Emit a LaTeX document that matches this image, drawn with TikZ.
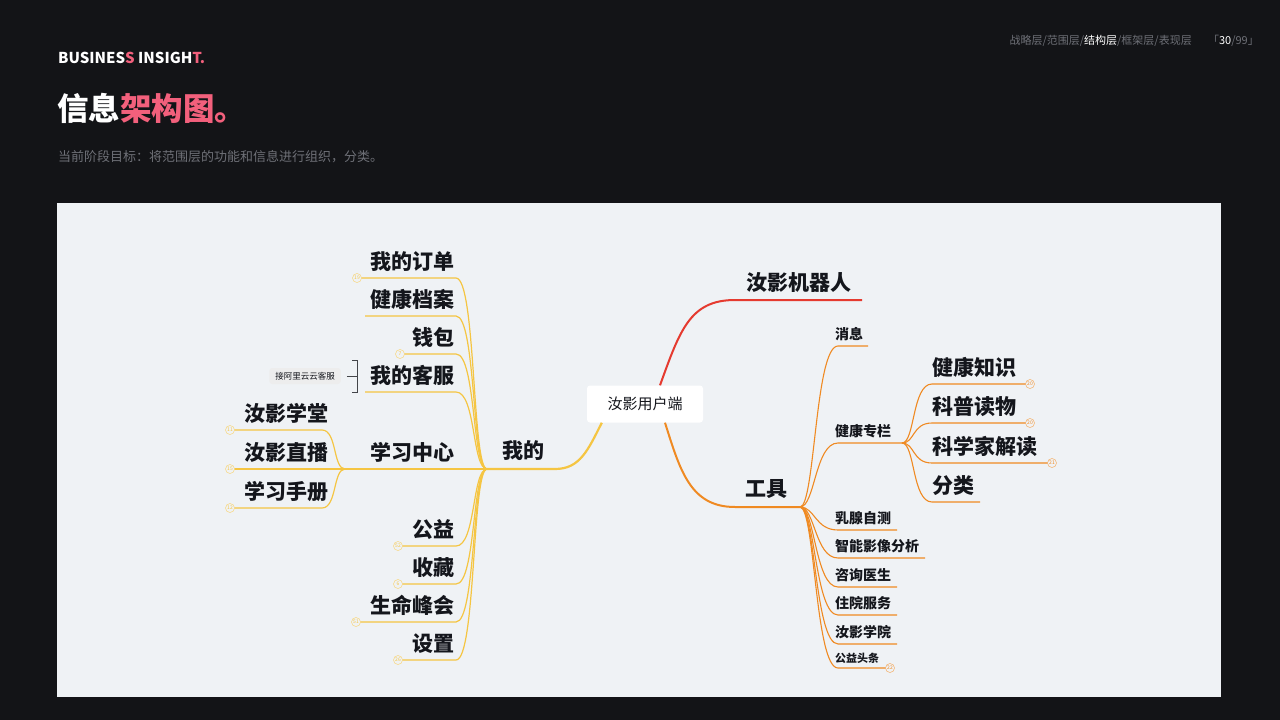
\documentclass[tikz,border=0pt]{standalone}
\usepackage{fontspec}
\setmainfont{Noto Sans CJK SC}
\newfontfamily\cjk{Noto Sans CJK SC}
\definecolor{bg}{HTML}{131417}
\definecolor{panel}{HTML}{EFF2F5}
\definecolor{pink}{HTML}{F2607C}
\definecolor{ylw}{HTML}{F5C542}
\definecolor{org}{HTML}{EF8A22}
\definecolor{rd}{HTML}{E53A2F}
\definecolor{ink}{HTML}{14161C}
\definecolor{gry}{HTML}{6E7077}
\tikzset{
 big/.style={font=\fontsize{21}{21}\selectfont\bfseries, text=ink, inner sep=0pt},
 small/.style={font=\fontsize{14}{14}\selectfont\bfseries, text=ink, inner sep=0pt},
 yl/.style={draw=ylw, line width=1.2pt},
 ol/.style={draw=org, line width=1.1pt},
 badgeY/.style={circle, draw=ylw!70, fill=panel, line width=0.5pt, inner sep=0pt, minimum size=9pt, font=\fontsize{5}{5}\selectfont, text=ylw},
 badgeO/.style={circle, draw=org!70, fill=panel, line width=0.5pt, inner sep=0pt, minimum size=9pt, font=\fontsize{5}{5}\selectfont, text=org},
}
\newcommand{\LeafL}[5]{% y, xstart, text, badge, name
 \coordinate (#5e) at (#2,#1);
 \draw[yl] (hubL) .. controls (472,469) and (476,#1) .. (456,#1) -- (#5e);
 \node[big, anchor=south east] (#5) at (455,#1-6) {#3};
 \ifx&#4&\else\node[badgeY] (#5b) at (#5e) {#4};\fi
}
\newcommand{\LeafT}[5]{% y, xend, text, badge, name
 \coordinate (#5e) at (#2,#1);
 \draw[ol] (hubT) .. controls (815,507) and (815,#1) .. (838,#1) -- (#5e);
 \node[small, anchor=south west] (#5) at (835,#1-5) {#3};
 \ifx&#4&\else\node[badgeO] (#5b) at (#5e) {#4};\fi
}
\begin{document}
\begin{tikzpicture}[x=1pt,y=-1pt]
\fill[bg] (0,0) rectangle (1280,720);
\useasboundingbox (0,0) rectangle (1280,720);
\fill[panel] (57,203) rectangle (1221,697);
% header
\node[anchor=west, inner sep=0pt, text=white, font=\fontsize{15}{15}\selectfont\bfseries] (brand) at (58,58) {BUSINES\textcolor{pink}{S} INSIGH\textcolor{pink}{T.}};
\node[anchor=west, inner sep=0pt, text=white, font=\fontsize{31.5}{31.5}\selectfont\bfseries] (title) at (57,108) {信息\textcolor{pink}{架构图。}};
\node[anchor=west, inner sep=0pt, text=gry, font=\fontsize{13}{13}\selectfont] (sub) at (58,157) {当前阶段目标：将范围层的功能和信息进行组织，分类。};
\node[anchor=east, inner sep=0pt, text=gry, font=\fontsize{11}{11}\selectfont] (nav) at (1192,41) {战略层/范围层/\textcolor{white}{结构层}/框架层/表现层};
\node[anchor=east, inner sep=0pt, text=gry, font=\fontsize{11}{11}\selectfont] (pg) at (1259,41) {「\textcolor{white}{30}/99」};
% center
\node[fill=white, rounded corners=3pt, minimum width=116pt, minimum height=37pt, font=\fontsize{15}{15}\selectfont, text=ink] (root) at (645,404) {汝影用户端};
% red branch
\coordinate (rbE) at (862,300);
\draw[rd, line width=2pt] (root.north) ++(15,0) .. controls (680,330) and (690,300) .. (735,300) -- (rbE);
\node[big, anchor=south west] (robot) at (746,293) {汝影机器人};
% yellow branch
\coordinate (hubL) at (487,469);
\draw[ylw, line width=2.2pt] (root.south west) ++(15,0) .. controls (588,450) and (580,469) .. (555,469) -- (hubL);
\node[big, anchor=south] (mine) at (523,461) {我的};
% orange branch
\coordinate (hubT) at (800,507);
\draw[org, line width=2pt] (root.south) ++(20,0) .. controls (680,470) and (690,507) .. (735,507) -- (hubT);
\node[big, anchor=south] (tool) at (766,499) {工具};
% my leaves
\LeafL{278}{357}{我的订单}{19}{m1}
\LeafL{316}{365}{健康档案}{}{m2}
\LeafL{354}{400}{钱包}{7}{m3}
\LeafL{392}{365}{我的客服}{}{m4}
\LeafL{546}{398}{公益}{52}{m6}
\LeafL{584}{398}{收藏}{6}{m7}
\LeafL{622}{356}{生命峰会}{51}{m8}
\LeafL{660}{398}{设置}{26}{m9}
% 学习中心
\coordinate (hubS) at (345,469);
\draw[yl] (hubL) -- (hubS);
\node[big, anchor=south east] (study) at (455,463) {学习中心};
\foreach \y/\t/\b/\n in {430/汝影学堂/11/s1, 469/汝影直播/15/s2, 508/学习手册/12/s3}{
 \coordinate (\n e) at (230,\y);
 \draw[yl] (hubS) .. controls (333,469) and (337,\y) .. (322,\y) -- (\n e);
 \node[big, anchor=south west] (\n) at (244,\y-6) {\t};
 \node[badgeY] (\n b) at (\n e) {\b};
}
% customer service bracket
\node[fill=black!7, rounded corners=3pt, font=\fontsize{8.5}{8.5}\selectfont, text=ink, minimum height=16pt, inner xsep=6pt] (ali) at (305,376) {接阿里云云客服};
\coordinate (brT) at (357,360);
\coordinate (brB) at (357,392);
\draw[ink!80, line width=0.8pt] (352,360) -- (brT) -- (brB) -- (352,392);
\draw[ink!80, line width=0.8pt] (ali.east) ++(6,0) -- (357,376);
% tool leaves
\LeafT{346}{868}{消息}{}{t1}
\LeafT{530}{897}{乳腺自测}{}{t3}
\LeafT{558}{925}{智能影像分析}{}{t4}
\LeafT{587}{897}{咨询医生}{}{t5}
\LeafT{615}{897}{住院服务}{}{t6}
\LeafT{644}{897}{汝影学院}{}{t7}
\coordinate (t8e) at (890,668);
\draw[ol] (hubT) .. controls (815,507) and (815,668) .. (838,668) -- (t8e);
\node[inner sep=0pt, anchor=south west, font=\fontsize{11}{11}\selectfont\bfseries, text=ink] (t8) at (835,664) {公益头条};
\node[badgeO] (t8b) at (t8e) {22};
% 健康专栏
\coordinate (hubH) at (902,443);
\draw[ol] (hubT) .. controls (815,507) and (815,443) .. (838,443) -- (hubH);
\node[small, anchor=south west] (health) at (835,438) {健康专栏};
\foreach \y/\x/\t/\b/\n in {384/1030/健康知识/20/h1, 423/1030/科普读物/20/h2, 463/1052/科学家解读/21/h3, 502/980/分类//h4}{
 \coordinate (\n e) at (\x,\y);
 \draw[ol] (hubH) .. controls (915,443) and (912,\y) .. (932,\y) -- (\n e);
 \node[big, anchor=south west] (\n) at (932,\y-6) {\t};
}
\node[badgeO] (h1b) at (h1e) {20};
\node[badgeO] (h2b) at (h2e) {20};
\node[badgeO] (h3b) at (h3e) {21};
\end{tikzpicture}
\end{document}
